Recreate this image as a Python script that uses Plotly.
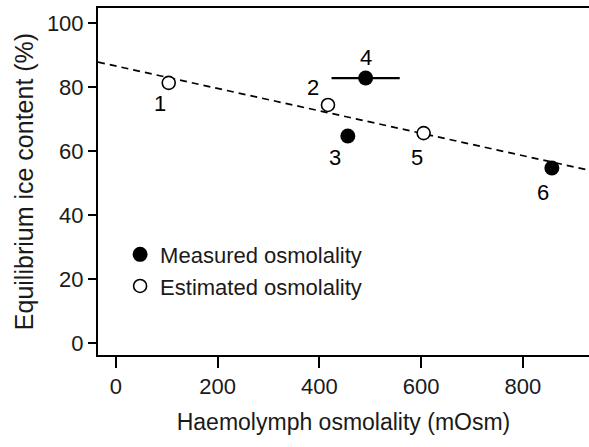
import plotly.graph_objects as go

# Data
point_ids = ["1", "2", "3", "4", "5", "6"]
osmolality = [104, 417, 456, 491, 605, 857]
ice_content = [81.3, 74.4, 64.7, 82.8, 65.6, 54.7]
measured = [False, False, True, True, False, True]
osm_error = [0, 0, 0, 67, 0, 0]

fit_x = [-35, 930]
fit_y = [87.8, 54.0]

x_ticks = [0, 200, 400, 600, 800]
y_ticks = [0, 20, 40, 60, 80, 100]

# label offsets (pixels) for point labels
label_dx = [-9, -15, -13, 0, -7, -9]
label_dy = [21, -17, 22, -21, 24, 25]

FONT = "Liberation Sans, Arial, sans-serif"

fig = go.Figure()
fig.add_trace(go.Scatter(
    x=fit_x, y=fit_y, mode="lines",
    line=dict(color="black", width=1.7, dash="7px,5px"),
    showlegend=False, hoverinfo="skip"))

mx = [x for x, m in zip(osmolality, measured) if m]
my = [y for y, m in zip(ice_content, measured) if m]
me = [e for e, m in zip(osm_error, measured) if m]
ex = [x for x, m in zip(osmolality, measured) if not m]
ey = [y for y, m in zip(ice_content, measured) if not m]

fig.add_trace(go.Scatter(
    x=mx, y=my, mode="markers", name="Measured osmolality",
    marker=dict(symbol="circle", size=15, color="black"),
    error_x=dict(type="data", array=me, visible=True, width=0, thickness=2.2, color="black")))
fig.add_trace(go.Scatter(
    x=ex, y=ey, mode="markers", name="Estimated osmolality",
    marker=dict(symbol="circle", size=13, color="white", line=dict(color="black", width=1.6))))

for pid, x, y, dx, dy in zip(point_ids, osmolality, ice_content, label_dx, label_dy):
    fig.add_annotation(x=x, y=y, text=pid, showarrow=False, xshift=dx, yshift=-dy,
                       font=dict(family=FONT, size=22, color="black"))

fig.update_layout(
    width=589, height=447,
    margin=dict(l=98, r=0, t=8, b=92, autoexpand=False),
    paper_bgcolor="white", plot_bgcolor="white",
    font=dict(family=FONT, size=22, color="#1a1a1a"),
    legend=dict(x=0.045, y=0.35, xanchor="left", yanchor="top",
                bgcolor="rgba(0,0,0,0)", font=dict(size=22), tracegroupgap=0,
                itemsizing="trace"),
    xaxis=dict(range=[-35, 930], tickvals=x_ticks, ticks="outside", ticklen=11,
               tickwidth=2, tickcolor="black", showline=True, linecolor="black",
               linewidth=2, mirror=True, showgrid=False, zeroline=False,
               automargin=False,
               title=dict(text="Haemolymph osmolality (mOsm)", standoff=15,
                          font=dict(size=23)),
               tickfont=dict(size=22)),
    yaxis=dict(range=[-3.75, 104.7], tickvals=y_ticks, ticks="outside", ticklen=8,
               tickwidth=2, tickcolor="black", showline=True, linecolor="black",
               linewidth=2, showgrid=False, zeroline=False,
               automargin=False,
               title=dict(text="Equilibrium ice content (%)", standoff=6,
                          font=dict(size=25)),
               tickfont=dict(size=22)),
)

fig.write_html("out.html", config={"displayModeBar": False},
               post_script="document.body.style.margin='0';document.body.style.overflow='hidden';")
